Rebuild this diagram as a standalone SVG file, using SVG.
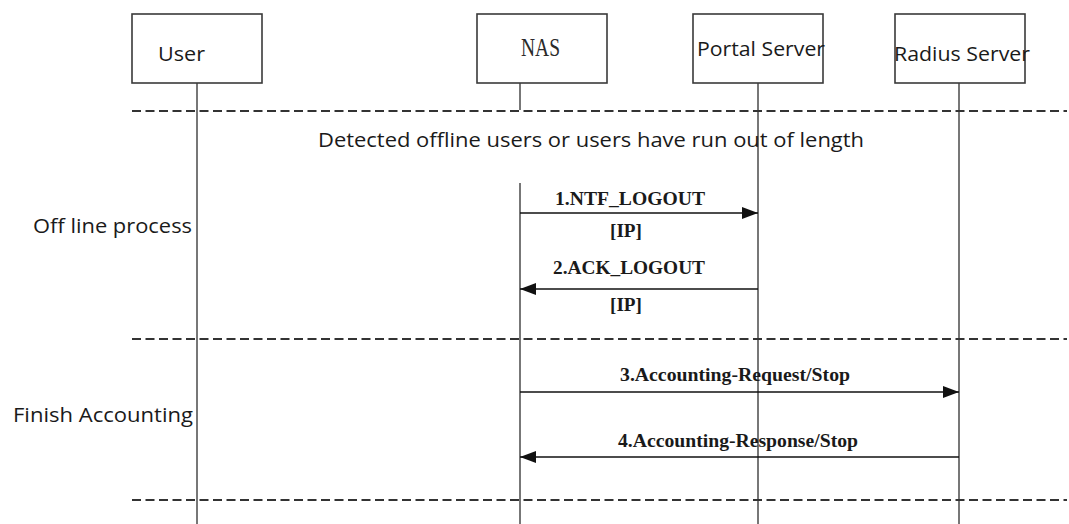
<svg xmlns="http://www.w3.org/2000/svg" width="1069" height="524" viewBox="0 0 1069 524">
  <style>
    .box { fill: #ffffff; stroke: #3a3a3a; stroke-width: 1.6; }
    .life { stroke: #555555; stroke-width: 1.6; fill: none; }
    .sep { stroke: #333333; stroke-width: 2; stroke-dasharray: 9 4.5; fill: none; }
    .msg { stroke: #111111; stroke-width: 1.5; fill: none; }
    .sans { font-family: "Open Sans", "Noto Sans", "Liberation Sans", sans-serif; font-size: 20px; fill: #1a1a1a; }
    .serif { font-family: "Liberation Serif", "DejaVu Serif", serif; font-size: 25px; fill: #2a2a2a; }
    .lbl { font-family: "Liberation Serif", "DejaVu Serif", serif; font-size: 19px; font-weight: bold; fill: #1a1a1a; }
  </style>
  <defs>
    <marker id="arrow" viewBox="0 0 16 12" refX="16" refY="6" markerWidth="16" markerHeight="12" markerUnits="userSpaceOnUse" orient="auto">
      <path d="M0,0 L16,6 L0,12 Z" fill="#111111"/>
    </marker>
  </defs>

  <!-- lifelines -->
  <g id="lifelines">
    <line class="life" x1="197" y1="83" x2="197" y2="524"/>
    <line class="life" x1="520" y1="83" x2="520" y2="110"/>
    <line class="life" x1="520" y1="183" x2="520" y2="524"/>
    <line class="life" x1="758" y1="83" x2="758" y2="524"/>
    <line class="life" x1="959" y1="83" x2="959" y2="524"/>
  </g>

  <!-- phase separators -->
  <g id="separators">
    <line class="sep" x1="132" y1="111" x2="1067" y2="111"/>
    <line class="sep" x1="132" y1="339" x2="1067" y2="339"/>
    <line class="sep" x1="132" y1="500" x2="1067" y2="500"/>
  </g>

  <!-- participants -->
  <g id="user">
    <rect class="box" x="132" y="14" width="130" height="69"/>
    <text class="sans" x="158" y="61" textLength="47" lengthAdjust="spacingAndGlyphs">User</text>
  </g>
  <g id="nas">
    <rect class="box" x="477" y="14" width="130" height="69"/>
    <text class="serif" x="521" y="56" textLength="39" lengthAdjust="spacingAndGlyphs">NAS</text>
  </g>
  <g id="portal-server">
    <rect class="box" x="693" y="14" width="130" height="69"/>
    <text class="sans" x="697" y="56" textLength="128" lengthAdjust="spacingAndGlyphs">Portal Server</text>
  </g>
  <g id="radius-server">
    <rect class="box" x="895" y="14" width="130" height="69"/>
    <text class="sans" x="894" y="61" textLength="136" lengthAdjust="spacingAndGlyphs">Radius Server</text>
  </g>

  <!-- phase notes -->
  <g id="notes">
    <text class="sans" x="318" y="147" textLength="546" lengthAdjust="spacingAndGlyphs">Detected offline users or users have run out of length</text>
    <text class="sans" x="33" y="233" textLength="159" lengthAdjust="spacingAndGlyphs">Off line process</text>
    <text class="sans" x="13" y="422" textLength="180" lengthAdjust="spacingAndGlyphs">Finish Accounting</text>
  </g>

  <!-- messages -->
  <g id="connectors">
    <line class="msg" x1="520" y1="213" x2="758" y2="213" marker-end="url(#arrow)"/>
    <line class="msg" x1="758" y1="289" x2="520" y2="289" marker-end="url(#arrow)"/>
    <line class="msg" x1="520" y1="392" x2="959" y2="392" marker-end="url(#arrow)"/>
    <line class="msg" x1="959" y1="457" x2="520" y2="457" marker-end="url(#arrow)"/>
    <text class="lbl" x="555" y="205" textLength="150" lengthAdjust="spacingAndGlyphs">1.NTF_LOGOUT</text>
    <text class="lbl" x="610" y="237" textLength="32" lengthAdjust="spacingAndGlyphs">[IP]</text>
    <text class="lbl" x="553" y="274" textLength="152" lengthAdjust="spacingAndGlyphs">2.ACK_LOGOUT</text>
    <text class="lbl" x="610" y="311" textLength="32" lengthAdjust="spacingAndGlyphs">[IP]</text>
    <text class="lbl" x="620" y="381" textLength="230" lengthAdjust="spacingAndGlyphs">3.Accounting-Request/Stop</text>
    <text class="lbl" x="618" y="447" textLength="240" lengthAdjust="spacingAndGlyphs">4.Accounting-Response/Stop</text>
  </g>
</svg>
